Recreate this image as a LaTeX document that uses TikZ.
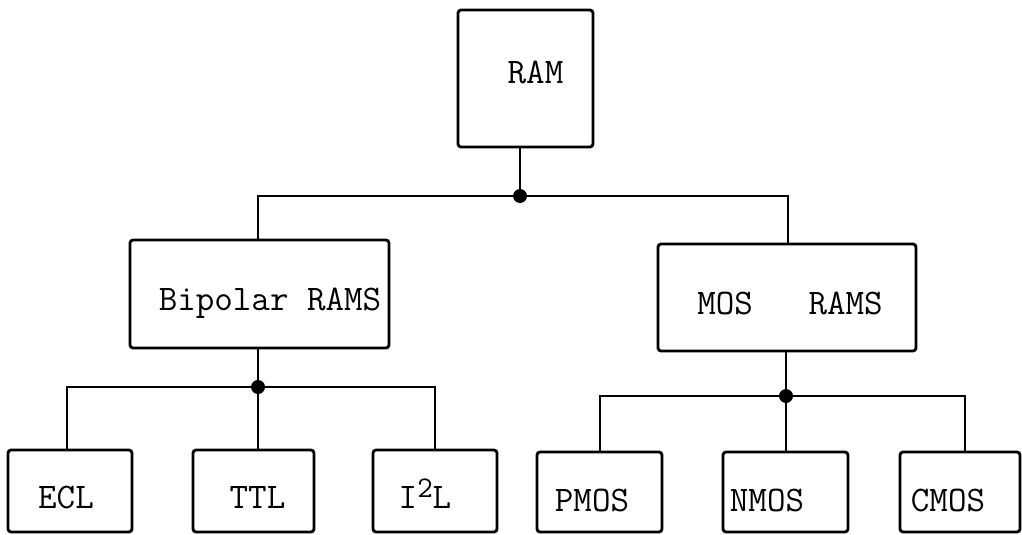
\documentclass[tikz,border=0pt]{standalone}
\usepackage{fontspec}
\begin{document}
\begin{tikzpicture}[x=1pt,y=-1pt,
  box/.style={draw=black, line width=2.8pt, rounded corners=3pt, inner sep=0pt, fill=white},
  lbl/.style={anchor=base, inner sep=0pt, font=\fontsize{36}{36}\selectfont\ttfamily\addfontfeatures{FakeBold=1.6}},
  wire/.style={line width=2.8pt},
  junction/.style={circle, fill=black, inner sep=0pt, minimum size=14pt}]
\useasboundingbox[fill=white] (0,0) rectangle (1022,535);
% boxes
\node[box, minimum width=135pt, minimum height=137pt] (ram) at (525.5,78.5) {};
\node[box, minimum width=259pt, minimum height=108pt] (bip) at (259.5,294) {};
\node[box, minimum width=258pt, minimum height=107pt] (mos) at (787,297.5) {};
\node[box, minimum width=124pt, minimum height=82pt] (ecl) at (70,491) {};
\node[box, minimum width=121pt, minimum height=82pt] (ttl) at (253.5,491) {};
\node[box, minimum width=124pt, minimum height=82pt] (iil) at (435,491) {};
\node[box, minimum width=125pt, minimum height=80pt] (pmos) at (599.5,492) {};
\node[box, minimum width=125pt, minimum height=80pt] (nmos) at (785.5,492) {};
\node[box, minimum width=120pt, minimum height=80pt] (cmos) at (960,492) {};
% labels
\node[lbl] (ramt) at (535.5,83) {RAM};
\node[lbl] (bipt) at (270,310) {Bipolar RAMS};
\node[lbl] (most) at (790,314) {MOS\ \ \ RAMS};
\node[lbl] (eclt) at (66,508) {ECL};
\node[lbl] (ttlt) at (257.5,508) {TTL};
\node[lbl] (iilt) at (425,508) {I\raisebox{11pt}{\fontsize{30}{30}\selectfont 2}L};
\node[lbl] (pmost) at (592,511) {PMOS};
\node[lbl] (nmost) at (767,511) {NMOS};
\node[lbl] (cmost) at (948,511) {CMOS};
% junctions
\coordinate (j1) at (520,196);
\coordinate (j2) at (258,387);
\coordinate (j3) at (786,396);
% connectors
\draw[wire] (ram.south -| j1) -- (j1);
\draw[wire] (j1) -| (bip.north -| j2);
\draw[wire] (j1) -| ([xshift=1pt]mos.north);
\draw[wire] (bip.south -| j2) -- (j2);
\draw[wire] (j2) -| ([xshift=-3pt]ecl.north);
\draw[wire] (j2) -- (ttl.north -| j2);
\draw[wire] (j2) -| (iil.north);
\draw[wire] (mos.south -| j3) -- (j3);
\draw[wire] (j3) -| ([xshift=0.5pt]pmos.north);
\draw[wire] (j3) -- (nmos.north -| j3);
\draw[wire] (j3) -| ([xshift=5pt]cmos.north);
\node[junction] (d1) at (j1) {};
\node[junction] (d2) at (j2) {};
\node[junction] (d3) at (j3) {};
\end{tikzpicture}
\end{document}
